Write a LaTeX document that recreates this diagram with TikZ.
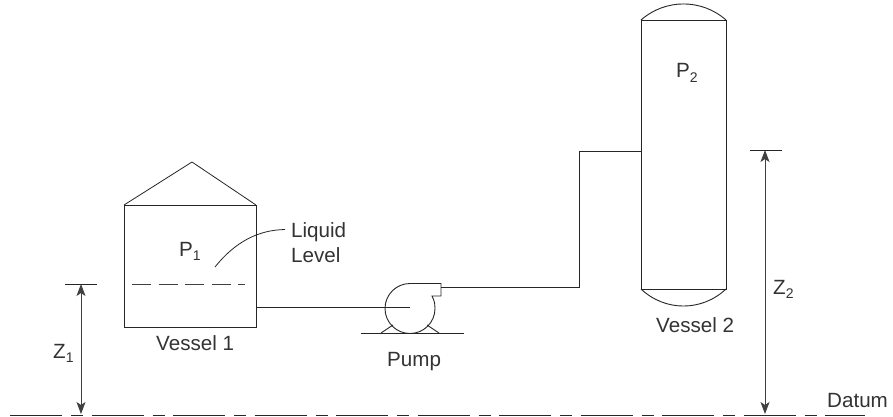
\documentclass[tikz,border=0pt]{standalone}
\usepackage{fontspec}
\setmainfont{Liberation Sans}
\usetikzlibrary{arrows.meta}
\tikzset{
  ln/.style={draw=black!85,line width=0.9pt,line join=miter},
  thin ln/.style={draw=black!85,line width=0.8pt},
  dim/.style={draw=black!75,line width=0.95pt,{Stealth[length=12pt,width=9pt,inset=3pt]}-{Stealth[length=12pt,width=9pt,inset=3pt]}},
  lbl/.style={inner sep=0pt,font=\fontsize{20.6}{24}\selectfont,text=black!80}
}
\newcommand{\subnum}[1]{\raisebox{-4.5pt}{\fontsize{14}{14}\selectfont #1}}
\begin{document}
\begin{tikzpicture}[x=1pt,y=-1pt]
\useasboundingbox (0,0) rectangle (893,417);
\fill[white] (0,0) rectangle (893,417);
% named points
\coordinate (v1tl) at (124,205);
\coordinate (v1tr) at (256,205);
\coordinate (v1br) at (256,327);
\coordinate (v1bl) at (124,327);
\coordinate (v1ap) at (192,162);
\coordinate (v1out) at (256,307);
\coordinate (v2tl) at (641,20);
\coordinate (v2tr) at (726,20);
\coordinate (v2br) at (726,289);
\coordinate (v2bl) at (641,289);
\coordinate (v2in) at (641,151);
\coordinate (pin) at (410,307);
\coordinate (pout) at (441,287);
\coordinate (bend1) at (579,287);
\coordinate (bend2) at (579,151);
\coordinate (z1top) at (81,284);
\coordinate (z1bot) at (81,414);
\coordinate (z2top) at (765,150);
\coordinate (z2bot) at (765,414);
\coordinate (dl) at (10,415);
\coordinate (dr) at (865,415);
% vessel 1
\draw[ln] (v1bl) -- (v1tl) -- (v1tr) -- (v1br) -- cycle;
\draw[thin ln] (v1tl) -- (v1ap) -- (v1tr);
\draw[draw=black!75,line width=0.9pt,dash pattern=on 19pt off 7.5pt] (132,284) -- (245,284);
\draw[thin ln] (215,267) .. controls (235,242) and (258,230) .. (285,229.5);
% vessel 2
\draw[ln] (v2bl) -- (v2tl) -- (v2tr) -- (v2br) -- cycle;
\draw[ln] (v2tl) .. controls (665.3,-1.4) and (701.7,-1.4) .. (v2tr);
\draw[ln] (v2bl) .. controls (665,311.7) and (702,311.7) .. (v2br);
% pump
\draw[ln] (441,283.5) -- (410,283.5) arc[start angle=-90,delta angle=-270,radius=25] .. controls (435,305) and (435,302) .. (432,296) -- (441,296) -- cycle;
\draw[ln] (361,333) -- (464,333);
\draw[ln] (381,333) -- (393,325);
\draw[ln] (439,333) -- (427,325);
% pipes
\draw[ln] (v1out) -- (pin);
\draw[ln] (pout) -- (bend1) -- (bend2) -- (v2in);
% dimensions
\draw[dim] (z1top) -- (z1bot);
\draw[dim] (z2top) -- (z2bot);
\draw[ln] (65,284) -- (97,284);
\draw[ln] (750,150) -- (782,150);
\draw[draw=black!85,line width=0.95pt,dash pattern=on 52pt off 9pt on 12pt off 8.5pt] (dl) -- (dr);
% labels
\node[lbl,anchor=base west] (p1) at (179,256) {P\subnum{1}};
\node[lbl,anchor=base west] (p2) at (676,78) {P\subnum{2}};
\node[lbl,anchor=base west] (liq) at (291,237) {Liquid};
\node[lbl,anchor=base west] (lev) at (291,262) {Level};
\node[lbl,anchor=base west] (ves1) at (156,350) {Vessel 1};
\node[lbl,anchor=base west] (ves2) at (656,332) {Vessel 2};
\node[lbl,anchor=base west] (pump) at (387,366) {Pump};
\node[lbl,anchor=base west] (z1) at (53,358) {Z\subnum{1}};
\node[lbl,anchor=base west] (z2) at (773,294) {Z\subnum{2}};
\node[lbl,anchor=base west] (dat) at (827,407) {Datum};
\end{tikzpicture}
\end{document}
